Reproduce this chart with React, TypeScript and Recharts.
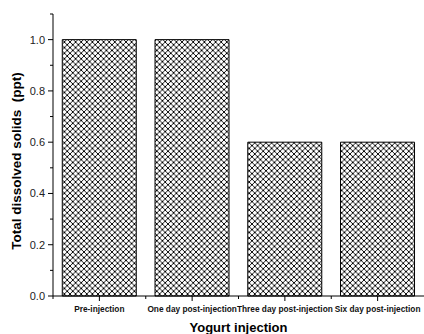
import React from 'react';
import { BarChart, Bar, XAxis, YAxis, Label } from 'recharts';

const categories = [
  'Pre-injection',
  'One day post-injection',
  'Three day post-injection',
  'Six day post-injection',
];
const tdsValues = [1.0, 1.0, 0.6, 0.6];
const yTicks = [0, 0.1, 0.2, 0.3, 0.4, 0.5, 0.6, 0.7, 0.8, 0.9, 1.0, 1.1];

const data = categories.map((name, i) => ({ name, tds: tdsValues[i] }));

const FONT = '"Liberation Sans", Arial, sans-serif';
const Y_TICK_SIZE = 5;
const Y_TICK_MARGIN = 3;
const X_TICK_SIZE = 5;
const X_TICK_MARGIN = 2;
const HATCH = 5.6;

// major ticks every 0.2 with labels, minor ticks in between
function YTick(props: any) {
  const { x, y, payload } = props;
  const axisX = x + Y_TICK_SIZE + Y_TICK_MARGIN;
  const v: number = payload.value;
  const major = Math.round(v * 10) % 2 === 0;
  return (
    <g>
      <line x1={axisX} x2={axisX - (major ? 5 : 3)} y1={y} y2={y} stroke="#000" strokeWidth={1} />
      {major && (
        <text
          x={x}
          y={y}
          dy={4}
          textAnchor="end"
          fontFamily={FONT}
          fontSize={11}
          fill="#222"
        >
          {v.toFixed(1)}
        </text>
      )}
    </g>
  );
}

// category label plus short ticks at the band edges
function XTick(props: any) {
  const { x, y, payload, index } = props;
  const axisY = y - X_TICK_SIZE - X_TICK_MARGIN;
  const half = payload.offset ?? 0;
  return (
    <g>
      {index === 0 && (
        <line x1={x - half} x2={x - half} y1={axisY} y2={axisY + 3} stroke="#000" />
      )}
      {index < categories.length - 1 && (
        <line x1={x + half} x2={x + half} y1={axisY} y2={axisY + 3} stroke="#000" />
      )}
      <text
        x={x}
        y={y}
        dy={9}
        textAnchor="middle"
        fontFamily={FONT}
        fontSize={8.3}
        fontWeight="bold"
        fill="#111"
      >
        {payload.value}
      </text>
    </g>
  );
}

function YLabel(props: any) {
  const { viewBox } = props;
  const cx = viewBox.x + 20.5;
  const cy = viewBox.y + viewBox.height / 2 + 6;
  return (
    <text
      x={cx}
      y={cy}
      transform={`rotate(-90, ${cx}, ${cy})`}
      textAnchor="middle"
      fontFamily={FONT}
      fontSize={13.5}
      fontWeight="bold"
      fill="#000"
      xmlSpace="preserve"
    >
      Total dissolved solids  (ppt)
    </text>
  );
}

export default function App() {
  return (
    <div style={{ position: 'absolute', left: 0, top: 0, background: '#fff' }}>
      <BarChart
        width={424}
        height={334}
        data={data}
        margin={{ top: 14, right: 0, bottom: 0, left: 0 }}
        barCategoryGap="10%"
      >
        <defs>
          <pattern id="xhatch" width={HATCH} height={HATCH} patternUnits="userSpaceOnUse">
            <path
              d={`M0,0 L${HATCH},${HATCH} M${HATCH},0 L0,${HATCH}`}
              stroke="#000"
              strokeWidth={1}
              shapeRendering="crispEdges"
            />
          </pattern>
        </defs>
        <XAxis
          dataKey="name"
          interval={0}
          height={38}
          tickSize={X_TICK_SIZE}
          tickMargin={X_TICK_MARGIN}
          tickLine={{ stroke: '#000' }}
          axisLine={{ stroke: '#000' }}
          tick={<XTick />}
        >
          <Label
            value="Yogurt injection"
            position="insideBottom"
            offset={2}
            style={{ fontFamily: FONT, fontSize: 13, fontWeight: 'bold', fill: '#000' }}
          />
        </XAxis>
        <YAxis
          width={53}
          domain={[0, 1.1]}
          ticks={yTicks}
          interval={0}
          tickSize={Y_TICK_SIZE}
          tickMargin={Y_TICK_MARGIN}
          tickLine={false}
          axisLine={{ stroke: '#000' }}
          tick={<YTick />}
        >
          <Label content={<YLabel />} />
        </YAxis>
        <Bar
          dataKey="tds"
          fill="url(#xhatch)"
          stroke="#000"
          strokeWidth={1}
          isAnimationActive={false}
        />
      </BarChart>
    </div>
  );
}
